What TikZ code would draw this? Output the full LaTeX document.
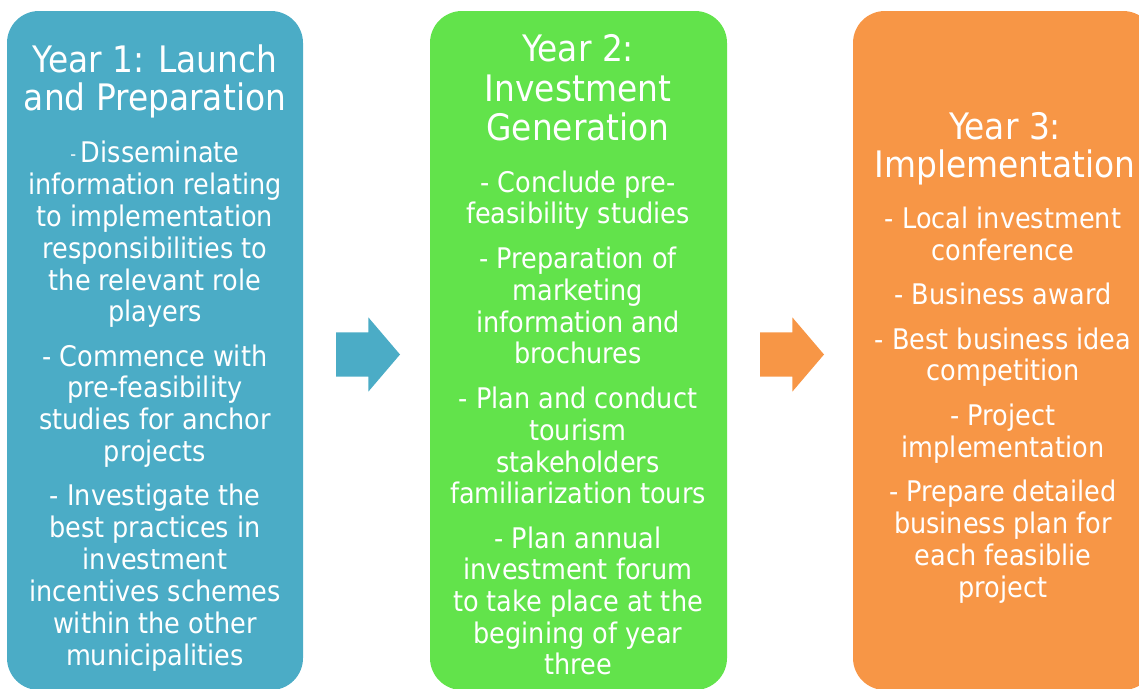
\documentclass[tikz,border=0pt]{standalone}
\usepackage{fontspec}
\setmainfont{DejaVu Sans}[FakeStretch=0.9]
\definecolor{cblue}{HTML}{4BACC6}
\definecolor{cgreen}{HTML}{62E34B}
\definecolor{corange}{HTML}{F79646}
\newcommand{\smalldash}{{\fontsize{18}{18}\selectfont\raisebox{2pt}{-}}\,}
\tikzset{
  panel/.style={rounded corners=32pt, inner sep=0pt, minimum height=679pt},
  ttl/.style={text=white, inner sep=0pt, anchor=base, font=\fontsize{36.5}{38}\selectfont},
  body/.style={text=white, inner sep=0pt, anchor=base, font=\fontsize{28.4}{32}\selectfont},
}
\begin{document}
\begin{tikzpicture}[x=1pt,y=1pt]
\useasboundingbox (0,0) rectangle (1139,-688);
\clip (0,0) rectangle (1139,-688);
% panels
\node[panel, fill=cblue, minimum width=296pt] (box1) at (155,-350.5) {};
\node[panel, fill=cgreen, minimum width=297pt] (box2) at (578.5,-350.5) {};
\node[panel, fill=corange, minimum width=302pt] (box3) at (1004,-350.5) {};
% arrows
\fill[cblue] (336,-332.3) -- (368.3,-332.3) -- (368.3,-317.3) -- (400,-354.5)
  -- (368.3,-391.7) -- (368.3,-376.7) -- (336,-376.7) -- cycle;
\fill[corange] (760,-332.3) -- (792.3,-332.3) -- (792.3,-317.3) -- (824,-354.5)
  -- (792.3,-391.7) -- (792.3,-376.7) -- (760,-376.7) -- cycle;
% box 1 text
\foreach \y/\t [count=\i] in {72.7/{Year 1: Launch}, 110.5/{and Preparation}}
  \node[ttl] (t1-\i) at (155,-\y) {\t};
\foreach \y/\t [count=\i] in {
  162/{\smalldash Disseminate}, 194/{information relating}, 226/{to implementation},
  258/{responsibilities to}, 290/{the relevant role}, 321/{players},
  366/{- Commence with}, 397/{pre-feasibility}, 429/{studies for anchor}, 461/{projects},
  505/{- Investigate the}, 537/{best practices in}, 569/{investment},
  601/{incentives schemes}, 633/{within the other}, 665/{municipalities}}
  \node[body] (b1-\i) at (155,-\y) {\t};
% box 2 text
\foreach \y/\t [count=\i] in {61.7/{Year 2:}, 101/{Investment}, 140.7/{Generation}}
  \node[ttl] (t2-\i) at (578,-\y) {\t};
\foreach \y/\t [count=\i] in {
  192/{- Conclude pre-}, 223.5/{feasibility studies},
  268/{- Preparation of}, 300/{marketing}, 332/{information and}, 363/{brochures},
  408/{- Plan and conduct}, 440/{tourism}, 472/{stakeholders}, 503/{familiarization tours},
  548/{- Plan annual}, 579.5/{investment forum}, 611.5/{to take place at the},
  643.5/{begining of year}, 674.5/{three}}
  \node[body] (b2-\i) at (578,-\y) {\t};
% box 3 text
\foreach \y/\t [count=\i] in {139.3/{Year 3:}, 177.3/{Implementation}}
  \node[ttl] (t3-\i) at (1005,-\y) {\t};
\foreach \y/\t [count=\i] in {
  228/{- Local investment}, 260/{conference},
  304/{- Business award},
  349/{- Best business idea}, 380.5/{competition},
  425/{- Project}, 457/{implementation},
  501/{- Prepare detailed}, 533/{business plan for}, 565/{each feasiblie}, 597/{project}}
  \node[body] (b3-\i) at (1003,-\y) {\t};
\end{tikzpicture}
\end{document}
